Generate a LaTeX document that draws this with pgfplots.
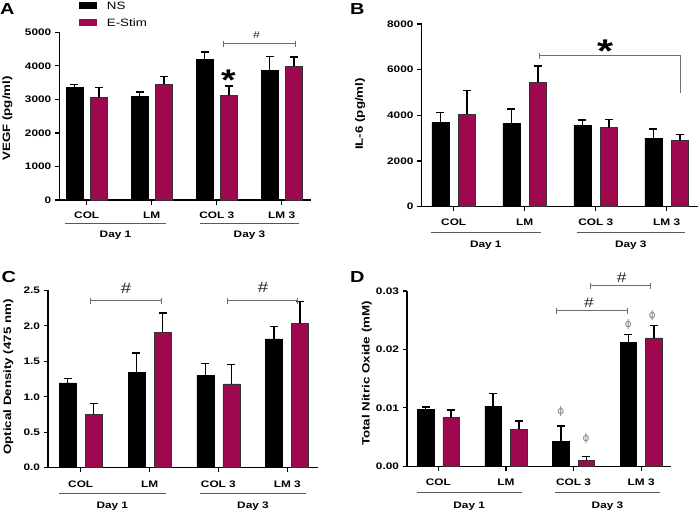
\documentclass[border=0pt]{standalone}
\usepackage{pgfplots}
\usepackage{pgfplotstable}
\pgfplotsset{compat=1.18}
\usepackage{fontspec}
\setmainfont{Liberation Sans}[FakeStretch=1.25]
\newfontfamily\phifont{DejaVu Sans}
\definecolor{estim}{RGB}{158,8,78}
\definecolor{annot}{RGB}{110,110,110}
\newcommand\tickfont{\bfseries\fontsize{9.5}{11}\selectfont}
\newcommand\labfont{\bfseries\fontsize{10.7}{12}\selectfont}

\pgfplotstableread{
pos ns nse es ese
0 3350 100 3052 308
1 3082 139 3449 239
2 4195 219 3121 279
3 3857 417 3986 278
}\dataA
\pgfplotstableread{
pos ns nse es ese
0 3693 424 4044 1036
1 3650 627 5445 715
2 3562 234 3460 365
3 3007 394 2920 233
}\dataB
\pgfplotstableread{
pos ns nse es ese
0 1.194 0.061 0.752 0.150
1 1.339 0.278 1.908 0.272
2 1.306 0.160 1.180 0.277
3 1.814 0.179 2.035 0.310
}\dataC
\pgfplotstableread{
pos ns nse es ese
0 0.00975 0.00040 0.00833 0.00131
1 0.01032 0.00211 0.00633 0.00143
2 0.00428 0.00262 0.00103 0.00068
3 0.02127 0.00126 0.02196 0.00216
}\dataD

\pgfplotsset{
  panel/.style={
    scale only axis, anchor=south west,
    axis lines=left, axis line style={-, line width=1.2bp},
    ymin=0, clip=false, enlargelimits=false,
    tick align=outside, major tick length=4.5bp,
    tick style={line width=1.2bp, black},
    xtick={0,1,2,3}, xticklabels={},
    yticklabel style={font=\tickfont},
    scaled y ticks=false,
  },
  errs/.style={error bars/y dir=plus, error bars/y explicit,
    error bars/error bar style={line width=1.5bp, black},
    error bars/error mark options={rotate=90, mark size=4bp, line width=1.5bp, black}},
  nsbar/.style={ybar, bar shift=0pt, fill=black, draw=black, line width=0.5bp, errs},
  esbar/.style={ybar, bar shift=0pt, fill=estim, draw=black!80, line width=0.5bp, errs},
}
\tikzset{
  cat/.style={anchor=base, font=\tickfont, inner sep=0pt},
  ylab/.style={anchor=base, rotate=90, font=\labfont, inner sep=0pt},
  plet/.style={anchor=base west, font=\bfseries\fontsize{16}{18}\selectfont, inner sep=0pt},
  dayl/.style={black!65, line width=1bp},
  hash/.style={font=\fontsize{#1}{#1}\selectfont, text=black!85, inner sep=0pt},
  phi/.style={font=\phifont\fontsize{10.5}{11}\selectfont, text=black!50, inner sep=0pt},
  star/.style={anchor=base, font=\bfseries\fontsize{#1}{#1}\selectfont, inner sep=0pt},
  legt/.style={anchor=base west, font=\fontsize{10.7}{12}\selectfont, inner sep=0pt},
}
\newcommand\brk[3]{\draw[annot,line width=0.9bp] (#1,{#3-2.5}) -- (#1,{#3+3.5}) (#1,#3) -- (#2,#3) (#2,{#3-2.5}) -- (#2,{#3+3.5});}

\begin{document}
\begin{tikzpicture}[x=1bp,y=-1bp]
\useasboundingbox (0,0) rectangle (700,514);

% ---------------- A ----------------
\begin{axis}[panel, at={(59.3bp,-200bp)}, width=251.2bp, height=167.7bp,
  xmin=-0.4215, xmax=3.443, ymax=5000,
  ytick={0,1000,2000,3000,4000,5000}, yticklabels={0,1000,2000,3000,4000,5000}]
\addplot[nsbar, bar width=0.257] table[x expr=\thisrow{pos}-0.1877, y=ns, y error=nse] {\dataA};
\addplot[esbar, bar width=0.257] table[x expr=\thisrow{pos}+0.1877, y=es, y error=ese] {\dataA};
\end{axis}
% legend
\fill[black] (79,1.7) rectangle (96.7,9);
\node[legt] at (106.7,10) {NS};
\fill[estim] (79,19) rectangle (96.7,26.3);
\node[legt] at (106.7,26.8) {E-Stim};
\node[plet] at (0,15) {A};
\node[ylab] at (10,118.5) {VEGF (pg/ml)};
\node[cat] at (86.7,218.8) {COL};
\node[cat] at (151.7,218.8) {LM};
\node[cat] at (216.7,218.8) {COL 3};
\node[cat] at (281.7,218.8) {LM 3};
\draw[dayl] (65,224) -- (166,224) (200,224) -- (299,224);
\node[cat] at (115.5,237.5) {Day 1};
\node[cat] at (249.5,237.5) {Day 3};
\brk{223}{295}{43.3}
\node[hash=10] at (256.7,35) {\#};
\node[star=30] at (228.3,91) {*};

% ---------------- B ----------------
\begin{axis}[panel, at={(421.5bp,-206.7bp)}, width=276.8bp, height=182.7bp,
  xmin=-0.4535, xmax=3.445, ymax=8000,
  ytick={0,2000,4000,6000,8000}, yticklabels={0,2000,4000,6000,8000}]
\addplot[nsbar, bar width=0.2437] table[x expr=\thisrow{pos}-0.1873, y=ns, y error=nse] {\dataB};
\addplot[esbar, bar width=0.2437] table[x expr=\thisrow{pos}+0.1873, y=es, y error=ese] {\dataB};
\end{axis}
\node[plet] at (350,15) {B};
\node[ylab] at (362.8,114) {IL-6 (pg/ml)};
\node[cat] at (453.7,225.2) {COL};
\node[cat] at (524.7,225.2) {LM};
\node[cat] at (595.7,225.2) {COL 3};
\node[cat] at (666.7,225.2) {LM 3};
\draw[dayl] (431,232.3) -- (540.7,232.3) (576.7,232.3) -- (685,232.3);
\node[cat] at (485.8,248) {Day 1};
\node[cat] at (630.8,248) {Day 3};
\draw[annot,line width=0.9bp] (539,53.2) -- (539,59.2) (539,55.7) -- (680,55.7) -- (680,93);
\node[star=33] at (605,62.7) {*};

% ---------------- C ----------------
\begin{axis}[panel, at={(48bp,-467.7bp)}, width=270.3bp, height=177.4bp,
  xmin=-0.475, xmax=3.453, ymax=2.5,
  ytick={0,0.5,1,1.5,2,2.5}, yticklabels={0.0,0.5,1.0,1.5,2.0,2.5}]
\addplot[nsbar, bar width=0.247] table[x expr=\thisrow{pos}-0.189, y=ns, y error=nse] {\dataC};
\addplot[esbar, bar width=0.247] table[x expr=\thisrow{pos}+0.189, y=es, y error=ese] {\dataC};
\end{axis}
\node[plet] at (1.5,282) {C};
\node[ylab] at (11,377) {Optical Density (475 nm)};
\node[cat] at (80.7,487.2) {COL};
\node[cat] at (149.6,487.2) {LM};
\node[cat] at (218.4,487.2) {COL 3};
\node[cat] at (287.3,487.2) {LM 3};
\draw[dayl] (59,493.7) -- (165.7,493.7) (200,493.7) -- (306,493.7);
\node[cat] at (112.3,508.5) {Day 1};
\node[cat] at (253,508.5) {Day 3};
\brk{90}{161}{300.3}
\brk{227.7}{297.7}{300.3}
\node[hash=15] at (126,288.5) {\#};
\node[hash=15] at (263,287) {\#};

% ---------------- D ----------------
\begin{axis}[panel, at={(407bp,-466.3bp)}, width=264bp, height=175.3bp,
  xmin=-0.4645, xmax=3.441, ymax=0.03,
  ytick={0,0.01,0.02,0.03}, yticklabels={0.00,0.01,0.02,0.03}]
\addplot[nsbar, bar width=0.244] table[x expr=\thisrow{pos}-0.189, y=ns, y error=nse] {\dataD};
\addplot[esbar, bar width=0.244] table[x expr=\thisrow{pos}+0.189, y=es, y error=ese] {\dataD};
\end{axis}
\node[plet] at (350,282) {D};
\node[ylab] at (369.5,373.5) {Total Nitric Oxide (mM)};
\node[cat] at (438.4,485.5) {COL};
\node[cat] at (506,485.5) {LM};
\node[cat] at (573.6,485.5) {COL 3};
\node[cat] at (641.2,485.5) {LM 3};
\draw[dayl] (416.7,492) -- (521.7,492) (555,492) -- (660,492);
\node[cat] at (469.2,508) {Day 1};
\node[cat] at (607.5,508) {Day 3};
\brk{556}{627.7}{310.7}
\brk{590.7}{650.7}{285}
\node[hash=14] at (589,302.5) {\#};
\node[hash=14] at (621.7,277.5) {\#};
\node[phi] at (560.7,412) {ϕ};
\node[phi] at (586,438.7) {ϕ};
\node[phi] at (628.3,324.3) {ϕ};
\node[phi] at (652.3,315.3) {ϕ};
\end{tikzpicture}
\end{document}
